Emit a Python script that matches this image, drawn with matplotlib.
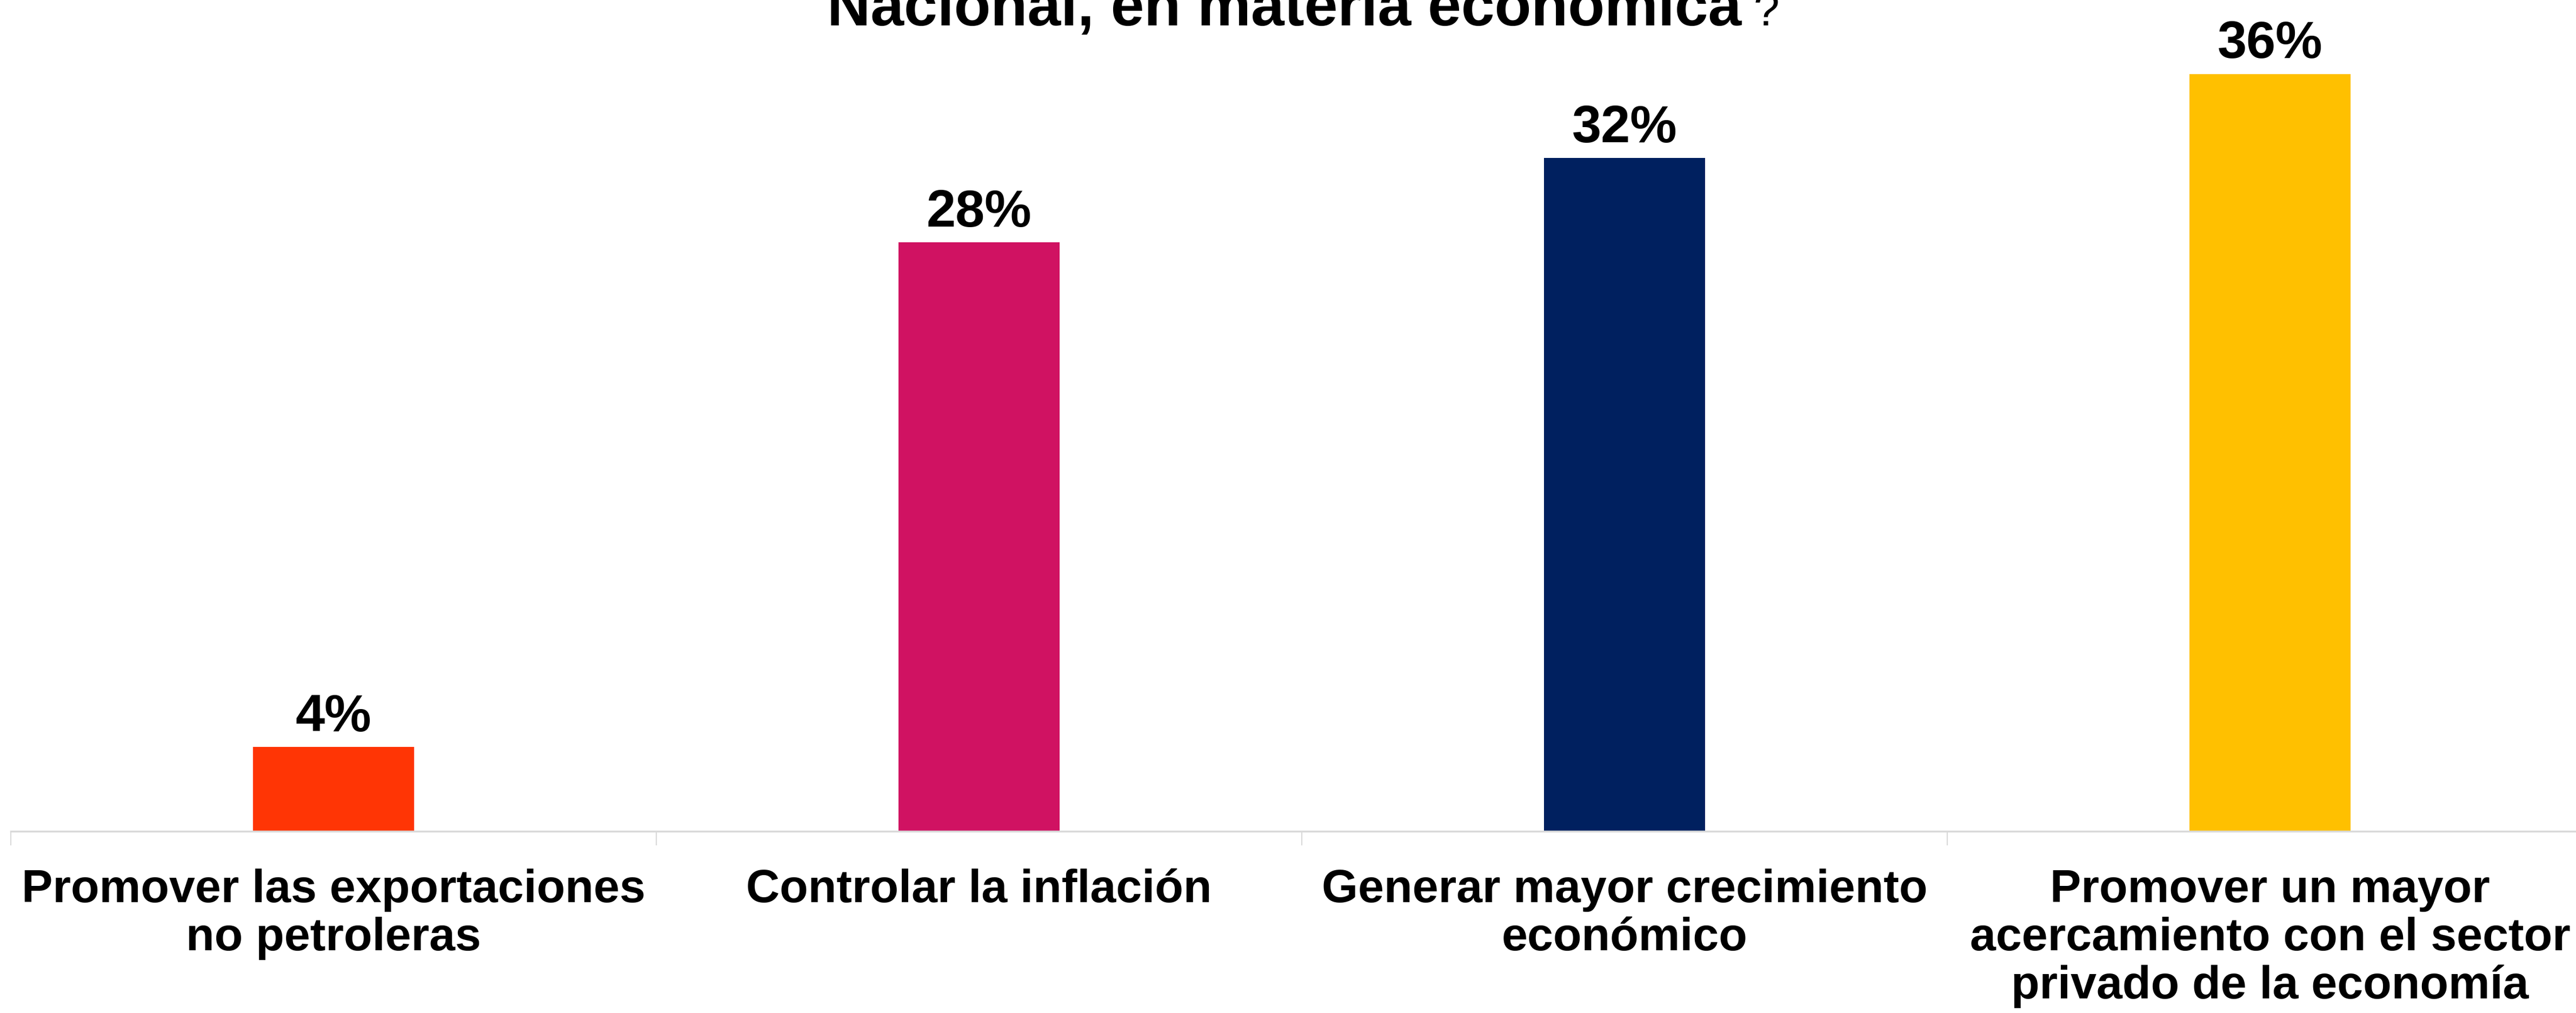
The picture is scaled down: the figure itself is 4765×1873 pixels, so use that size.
import matplotlib.pyplot as plt

categorias = ["Promover las exportaciones\nno petroleras",
              "Controlar la inflación",
              "Generar mayor crecimiento\neconómico",
              "Promover un mayor\nacercamiento con el sector\nprivado de la economía"]
porcentajes = [4, 28, 32, 36]
colores = ["#FF3505", "#D01262", "#00205F", "#FFC000"]

plt.rcParams['font.family'] = ['Liberation Sans', 'DejaVu Sans']

fig = plt.figure(figsize=(47.65, 18.73), dpi=100)
ax = fig.add_axes([20 / 4765, 336 / 1873, 4776 / 4765, 1556 / 1873])

x = range(len(categorias))
ax.bar(x, porcentajes, width=0.25, color=colores)
for xi, v in zip(x, porcentajes):
    ax.annotate(f"{v}%", (xi, v), xytext=(0, 21), textcoords="offset points",
                ha="center", va="baseline", fontsize=70, fontweight="bold")

ax.set_xlim(-0.5, 3.5)
ax.set_ylim(0, 40)
for s in ["top", "right", "left"]:
    ax.spines[s].set_visible(False)
ax.spines["bottom"].set_color("#d9d9d9")
ax.spines["bottom"].set_linewidth(2.5)
ax.set_yticks([])

# separadores entre categorias
ax.set_xticks([-0.5, 0.5, 1.5, 2.5, 3.5])
ax.set_xticklabels([])
ax.tick_params(axis="x", which="major", length=19, width=1.5, color="#d9d9d9")
ax.set_xticks(list(x), minor=True)
ax.set_xticklabels(categorias, minor=True, fontsize=62, fontweight="bold",
                   linespacing=1.14)
ax.tick_params(axis="x", which="minor", length=0, pad=50)

titulo = fig.text(2376, 1873 - 47, "Nacional, en materia económica",
                  transform=None, ha="center", va="baseline",
                  fontsize=80, fontweight="bold")
fig.canvas.draw()
bb = titulo.get_window_extent()
fig.text(bb.x1 + 22, 1873 - 47, "?", transform=None, ha="left", va="baseline",
         fontsize=62)

fig.savefig("out.png", dpi=100)
